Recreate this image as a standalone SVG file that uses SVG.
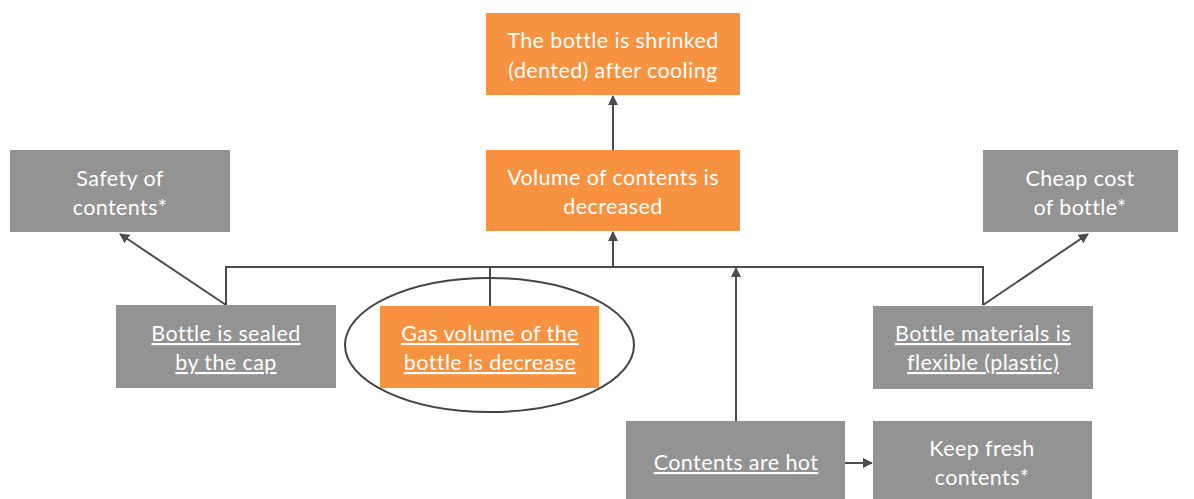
<svg xmlns="http://www.w3.org/2000/svg" width="1194" height="499" viewBox="0 0 1194 499">
<style>
.o{fill:#F69240}
.g{fill:#939394}
text{font-family:Lato,"Liberation Sans",sans-serif;font-size:21.5px;letter-spacing:0.4px;fill:#fff;text-anchor:middle}
.u{text-decoration:underline}
.c{stroke:#4a4a4f;stroke-width:2;fill:none}
</style>
<defs>
<marker id="a" viewBox="0 0 10 10" refX="9" refY="5" markerWidth="10" markerHeight="10" markerUnits="userSpaceOnUse" orient="auto">
<path d="M0,0 L10,5 L0,10 z" fill="#4a4a4f"/>
</marker>
</defs>
<rect width="1194" height="499" fill="#fff"/>
<g id="connectors">
<line class="c" x1="613" y1="150" x2="613" y2="96" marker-end="url(#a)"/>
<line class="c" x1="613" y1="267" x2="613" y2="232" marker-end="url(#a)"/>
<polyline class="c" points="226,305 226,267 983,267 983,305"/>
<line class="c" x1="490" y1="267" x2="490" y2="306"/>
<line class="c" x1="736" y1="421" x2="736" y2="268" marker-end="url(#a)"/>
<line class="c" x1="226" y1="305" x2="120" y2="234" marker-end="url(#a)"/>
<line class="c" x1="983" y1="305" x2="1088" y2="234" marker-end="url(#a)"/>
<line class="c" x1="845" y1="463" x2="872" y2="463" marker-end="url(#a)"/>
<ellipse cx="489.5" cy="345" rx="144.5" ry="67" fill="none" stroke="#444" stroke-width="2"/>
</g>
<g id="n_shrinked">
<rect class="o" x="486" y="13" width="254" height="82"/>
<text x="613" y="48">The bottle is shrinked</text>
<text x="613" y="78">(dented) after cooling</text>
</g>
<g id="n_volume">
<rect class="o" x="486" y="150" width="254" height="81"/>
<text x="613" y="185">Volume of contents is</text>
<text x="613" y="214">decreased</text>
</g>
<g id="n_safety">
<rect class="g" x="10" y="150" width="220" height="82"/>
<text x="120" y="186">Safety of</text>
<text x="120" y="215">contents*</text>
</g>
<g id="n_cheap">
<rect class="g" x="983" y="150" width="195" height="82"/>
<text x="1080" y="186">Cheap cost</text>
<text x="1080" y="215">of bottle*</text>
</g>
<g id="n_sealed">
<rect class="g" x="116" y="305" width="220" height="83"/>
<text class="u" x="226" y="341">Bottle is sealed</text>
<text class="u" x="226" y="370">by the cap</text>
</g>
<g id="n_gas">
<rect class="o" x="380" y="306" width="219" height="82"/>
<text class="u" x="490" y="341">Gas volume of the</text>
<text class="u" x="490" y="370">bottle is decrease</text>
</g>
<g id="n_flexible">
<rect class="g" x="873" y="306" width="220" height="83"/>
<text class="u" x="983" y="341">Bottle materials is</text>
<text class="u" x="983" y="370">flexible (plastic)</text>
</g>
<g id="n_hot">
<rect class="g" x="626" y="421" width="219" height="78"/>
<text class="u" x="736" y="470">Contents are hot</text>
</g>
<g id="n_fresh">
<rect class="g" x="873" y="421" width="219" height="78"/>
<text x="982" y="456">Keep fresh</text>
<text x="982" y="485">contents*</text>
</g>
</svg>
